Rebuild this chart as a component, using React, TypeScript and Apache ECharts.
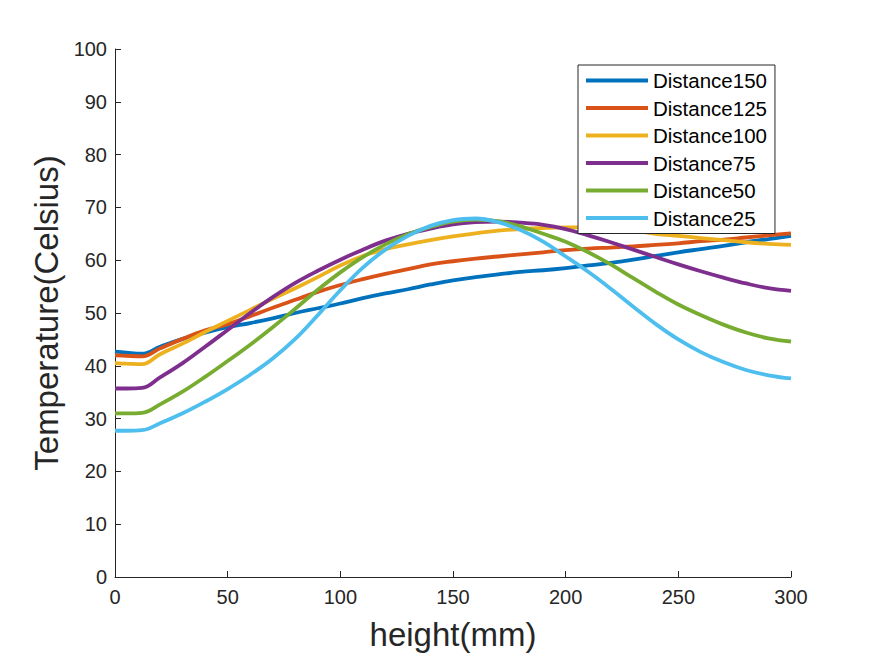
import React, { useEffect, useRef } from "react";
import * as echarts from "echarts";

const heights = [0, 5, 12, 20, 30, 40, 50, 60, 70, 80, 90, 100, 110, 120, 130, 140, 150, 160, 170, 180, 190, 200, 210, 220, 230, 240, 250, 260, 270, 280, 290, 300];

const seriesNames = ["Distance150", "Distance125", "Distance100", "Distance75", "Distance50", "Distance25"];

const d150 = [42.7, 42.5, 42.3, 43.6, 45.1, 46.3, 47.3, 48.1, 49.0, 50.0, 50.9, 51.8, 52.8, 53.7, 54.5, 55.4, 56.2, 56.8, 57.3, 57.8, 58.1, 58.5, 59.0, 59.5, 60.1, 60.8, 61.5, 62.1, 62.7, 63.4, 64.0, 64.6];
const d125 = [42.0, 41.9, 41.8, 43.3, 45.1, 46.7, 47.9, 49.4, 51.0, 52.5, 54.0, 55.3, 56.4, 57.4, 58.3, 59.2, 59.8, 60.3, 60.7, 61.1, 61.5, 61.9, 62.2, 62.4, 62.6, 62.9, 63.2, 63.6, 63.9, 64.3, 64.7, 65.1];
const d100 = [40.5, 40.4, 40.3, 42.2, 44.2, 46.4, 48.5, 50.6, 52.7, 54.7, 56.8, 59.0, 60.8, 62.1, 63.0, 63.8, 64.5, 65.1, 65.6, 65.9, 66.1, 66.2, 66.2, 66.0, 65.6, 65.0, 64.6, 64.2, 63.8, 63.4, 63.1, 62.9];
const d75 = [35.7, 35.7, 35.8, 37.8, 40.5, 43.6, 46.8, 50.0, 53.0, 55.7, 58.0, 60.1, 62.0, 63.7, 65.0, 66.0, 66.8, 67.2, 67.3, 67.1, 66.7, 65.9, 64.7, 63.4, 62.0, 60.6, 59.2, 57.9, 56.7, 55.6, 54.7, 54.2];
const d50 = [31.0, 31.0, 31.1, 32.7, 35.1, 37.9, 40.9, 44.0, 47.3, 50.8, 54.4, 57.7, 60.6, 63.0, 64.9, 66.3, 67.3, 67.7, 67.4, 66.4, 65.0, 63.5, 61.5, 59.2, 56.6, 54.0, 51.6, 49.6, 47.8, 46.3, 45.2, 44.6];
const d25 = [27.7, 27.7, 27.8, 29.1, 31.0, 33.2, 35.6, 38.3, 41.4, 45.1, 49.6, 54.3, 58.6, 62.0, 64.6, 66.5, 67.6, 67.9, 67.2, 65.7, 63.5, 60.7, 57.8, 54.6, 51.2, 47.9, 45.0, 42.6, 40.7, 39.2, 38.2, 37.6];

const seriesValues = [d150, d125, d100, d75, d50, d25];
const colors = ["#0072BD", "#D95319", "#EDB120", "#7E2F8E", "#77AC30", "#4DBEEE"];

const xTicks = { min: 0, max: 300, interval: 50 };
const yTicks = { min: 0, max: 100, interval: 10 };

const FONT = "Liberation Sans, Arial, Helvetica, sans-serif";
const AXIS_COLOR = "#262626";

export default function App() {
  const ref = useRef<HTMLDivElement>(null);
  useEffect(() => {
    if (!ref.current) return;
    const chart = echarts.init(ref.current, undefined, { renderer: "svg" });
    const axisCommon = {
      axisLine: { show: true, onZero: false, lineStyle: { color: AXIS_COLOR, width: 1 } },
      axisTick: { show: true, inside: true, length: 6, lineStyle: { color: AXIS_COLOR } },
      splitLine: { show: false },
      axisLabel: { color: AXIS_COLOR, fontSize: 20, fontFamily: FONT },
      nameLocation: "middle" as const,
      nameTextStyle: { color: AXIS_COLOR, fontSize: 33, fontFamily: FONT },
    };
    chart.setOption({
      animation: false,
      backgroundColor: "#ffffff",
      grid: { left: 115, top: 49, right: 84, bottom: 79, containLabel: false },
      xAxis: {
        type: "value",
        ...axisCommon,
        min: xTicks.min,
        max: xTicks.max,
        interval: xTicks.interval,
        name: "height(mm)",
        nameGap: 41,
        axisLabel: { ...axisCommon.axisLabel, margin: 10 },
      },
      yAxis: {
        type: "value",
        ...axisCommon,
        min: yTicks.min,
        max: yTicks.max,
        interval: yTicks.interval,
        name: "Temperature(Celsius)",
        nameGap: 47,
        axisLabel: { ...axisCommon.axisLabel, margin: 8 },
      },
      legend: {
        orient: "vertical",
        left: 578,
        top: 65,
        icon: "rect",
        itemWidth: 62,
        itemHeight: 4,
        itemGap: 6.5,
        padding: [5, 8, 5, 8],
        borderColor: "#262626",
        borderWidth: 1,
        backgroundColor: "#ffffff",
        textStyle: { color: "#000000", fontSize: 20.5, fontFamily: FONT, lineHeight: 21, padding: [0, 0, 0, 0] },
        data: seriesNames,
      },
      series: seriesNames.map((name, i) => ({
        name,
        type: "line",
        showSymbol: false,
        smooth: 0.4,
        color: colors[i],
        lineStyle: { width: 3.8, color: colors[i] },
        data: heights.map((h, j) => [h, seriesValues[i][j]]),
        z: 2,
      })),
    });
    return () => chart.dispose();
  }, []);
  return (
    <div
      ref={ref}
      style={{ position: "absolute", left: 0, top: 0, width: 875, height: 656 }}
    />
  );
}
